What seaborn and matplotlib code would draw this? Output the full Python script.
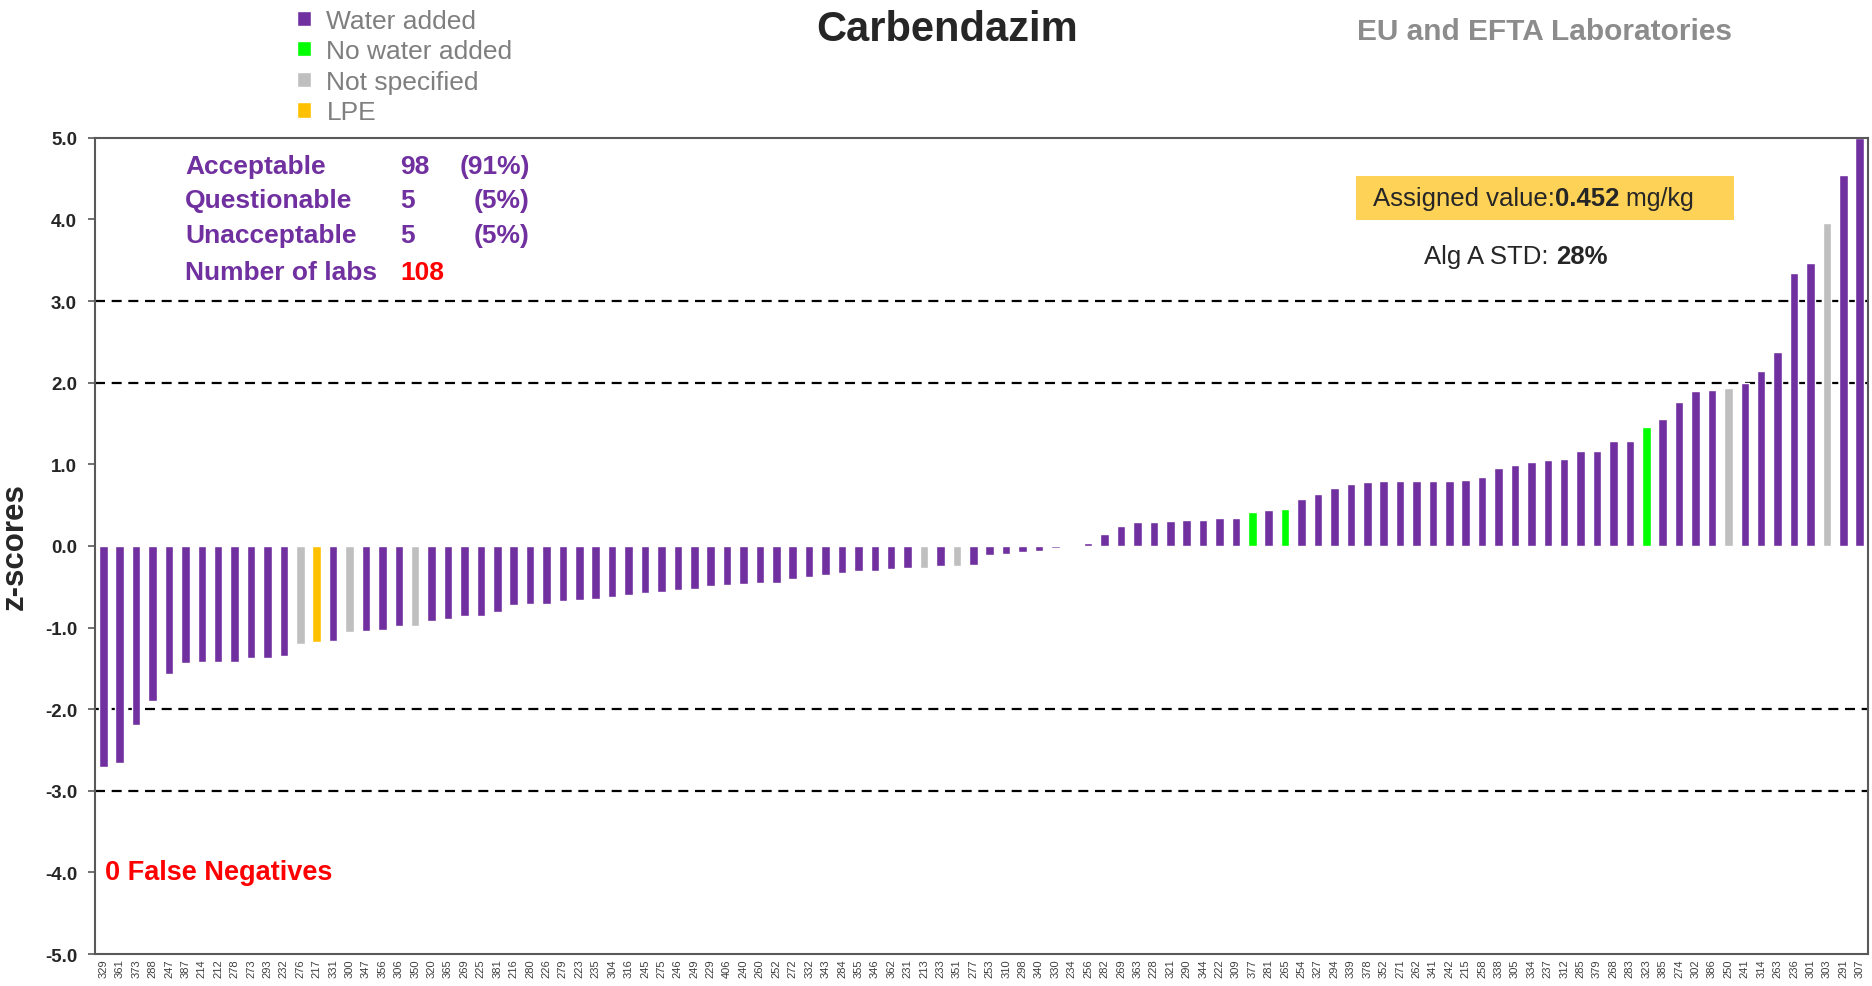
import numpy as np
import pandas as pd
import matplotlib.pyplot as plt
import seaborn as sns
from matplotlib.patches import Rectangle
from matplotlib.text import Annotation

# lab codes in plotted order (left to right)
labs = ['329', '361', '373', '288', '247', '387', '214', '212', '278', '273', '293', '232',
        '276', '217', '331', '300', '347', '356', '306', '350', '320', '365', '269', '225',
        '381', '216', '280', '226', '279', '223', '235', '304', '316', '245', '275', '246',
        '249', '229', '406', '240', '260', '252', '272', '332', '343', '284', '355', '346',
        '362', '231', '213', '233', '351', '277', '253', '310', '298', '340', '330', '234',
        '256', '282', '269', '363', '228', '321', '290', '344', '222', '309', '377', '281',
        '265', '254', '327', '294', '339', '378', '352', '271', '262', '341', '242', '215',
        '258', '338', '305', '334', '237', '312', '285', '379', '268', '283', '323', '385',
        '274', '302', '386', '250', '241', '314', '263', '236', '301', '303', '291', '307']

zscores = [-2.71, -2.66, -2.19, -1.90, -1.57, -1.43, -1.42, -1.42, -1.42, -1.37, -1.37, -1.35,
           -1.20, -1.18, -1.17, -1.06, -1.04, -1.03, -0.98, -0.98, -0.92, -0.90, -0.86, -0.86,
           -0.81, -0.73, -0.71, -0.71, -0.67, -0.66, -0.65, -0.63, -0.60, -0.58, -0.56, -0.54,
           -0.53, -0.49, -0.48, -0.47, -0.46, -0.45, -0.40, -0.38, -0.36, -0.33, -0.31, -0.31,
           -0.28, -0.27, -0.27, -0.25, -0.25, -0.24, -0.11, -0.10, -0.08, -0.06, -0.02, 0.015,
           0.035, 0.14, 0.24, 0.29, 0.29, 0.31, 0.32, 0.32, 0.34, 0.34, 0.42, 0.44,
           0.45, 0.57, 0.64, 0.71, 0.76, 0.78, 0.79, 0.79, 0.79, 0.79, 0.80, 0.81,
           0.84, 0.95, 0.99, 1.03, 1.05, 1.06, 1.16, 1.16, 1.28, 1.29, 1.46, 1.55,
           1.76, 1.90, 1.91, 1.94, 2.00, 2.14, 2.38, 3.34, 3.47, 3.95, 4.54, 5.00]

# labs that are not "Water added"
no_water_labs = ['377', '265', '323']
not_specified_labs = ['276', '300', '350', '213', '351', '250', '303']
lpe_labs = ['217']

group_names = ['Water added', 'No water added', 'Not specified', 'LPE']
group_colors = ['#7030A0', '#00FF00', '#BFBFBF', '#FFC000']

stats_names = ['Acceptable', 'Questionable', 'Unacceptable', 'Number of labs']
stats_counts = ['98', '5', '5', '108']
stats_pct = ['(91%)', '(5%)', '(5%)', '']

def lab_group(lab):
    if lab in no_water_labs:
        return 'No water added'
    if lab in not_specified_labs:
        return 'Not specified'
    if lab in lpe_labs:
        return 'LPE'
    return 'Water added'

df = pd.DataFrame({'pos': np.arange(len(labs)), 'lab': labs, 'z': zscores})
df['group'] = df['lab'].map(lab_group)

sns.set_style('white')
plt.rcParams['font.family'] = ['Liberation Sans', 'DejaVu Sans']

fig = plt.figure(figsize=(18.72, 9.87), dpi=100)
ax = fig.add_axes([0.0508, 0.0324, 0.947, 0.827])

sns.barplot(data=df, x='pos', y='z', hue='group', hue_order=group_names,
            palette=group_colors, dodge=False, width=0.52, saturation=1,
            ax=ax)

for lvl in [-3, -2, 2, 3]:
    ax.axhline(lvl, color='black', lw=1.6, ls=(0, (4.5, 3)), zorder=0.5)

ax.set_ylim(-5, 5)
ax.set_xlim(-0.5, len(labs) - 0.5)
ax.set_yticks(np.arange(-5, 6, 1))
ax.set_yticklabels([f'{v:.1f}' for v in np.arange(-5, 6, 1)], fontsize=13.5, fontweight='bold')
ax.set_xticks(df['pos'])
ax.set_xticklabels(df['lab'], rotation=90, fontsize=8, color='#404040')
ax.tick_params(axis='y', direction='out', length=5, width=1.2, color='#595959', pad=8, left=True)
ax.tick_params(axis='x', length=0, pad=3)
ax.set_xlabel('')
ax.set_ylabel('z-scores', fontsize=22.5, fontweight='bold', labelpad=11)
for sp in ax.spines.values():
    sp.set_visible(True)
    sp.set_color('#595959')
    sp.set_linewidth(1.5)

sns.move_legend(ax, loc='upper left', bbox_to_anchor=(0.149, 1.009),
                bbox_transform=fig.transFigure, title=None, frameon=False,
                fontsize=19, labelcolor='#7f7f7f', handlelength=0.5, handleheight=0.5,
                handletextpad=0.6, labelspacing=0.25, borderpad=0.2)

# headers
fig.text(0.506, 0.970, 'Carbendazim', ha='center', va='center', fontsize=30, fontweight='bold')
fig.text(0.825, 0.968, 'EU and EFTA Laboratories', ha='center', va='center',
         fontsize=21.5, fontweight='bold', color='#8c8c8c')

# statistics block
purple = '#7030A0'
row_y = [0.831, 0.796, 0.761, 0.723]
for name, cnt, pct, y in zip(stats_names, stats_counts, stats_pct, row_y):
    fig.text(0.0988, y, name, ha='left', va='center', fontsize=19, fontweight='bold', color=purple)
    fig.text(0.214, y, cnt, ha='left', va='center', fontsize=19, fontweight='bold',
             color='#FF0000' if name == 'Number of labs' else purple)
    if pct:
        fig.text(0.283, y, pct, ha='right', va='center', fontsize=19, fontweight='bold', color=purple)

# assigned value box
fig.add_artist(Rectangle((0.7244, 0.7761), 0.2019, 0.0446, transform=fig.transFigure,
                         facecolor='#FDD256', edgecolor='none', zorder=1))
t1 = fig.text(0.7335, 0.798, 'Assigned value:', ha='left', va='center', fontsize=18.5)
t2 = fig.add_artist(Annotation('0.452', xy=(1, 0), xycoords=t1, ha='left', va='bottom',
                               fontsize=18.5, fontweight='bold', zorder=3))
fig.add_artist(Annotation(' mg/kg', xy=(1, 0), xycoords=t2, ha='left', va='bottom',
                          fontsize=18, zorder=3))

t3 = fig.text(0.7607, 0.740, 'Alg A STD: ', ha='left', va='center', fontsize=18.5)
fig.add_artist(Annotation('28%', xy=(1, 0), xycoords=t3, ha='left', va='bottom',
                          fontsize=18.5, fontweight='bold', zorder=3))

fig.text(0.056, 0.1155, '0 False Negatives', ha='left', va='center', fontsize=19.5,
         fontweight='bold', color='#FF0000')

fig.savefig('out.png', dpi=100)
